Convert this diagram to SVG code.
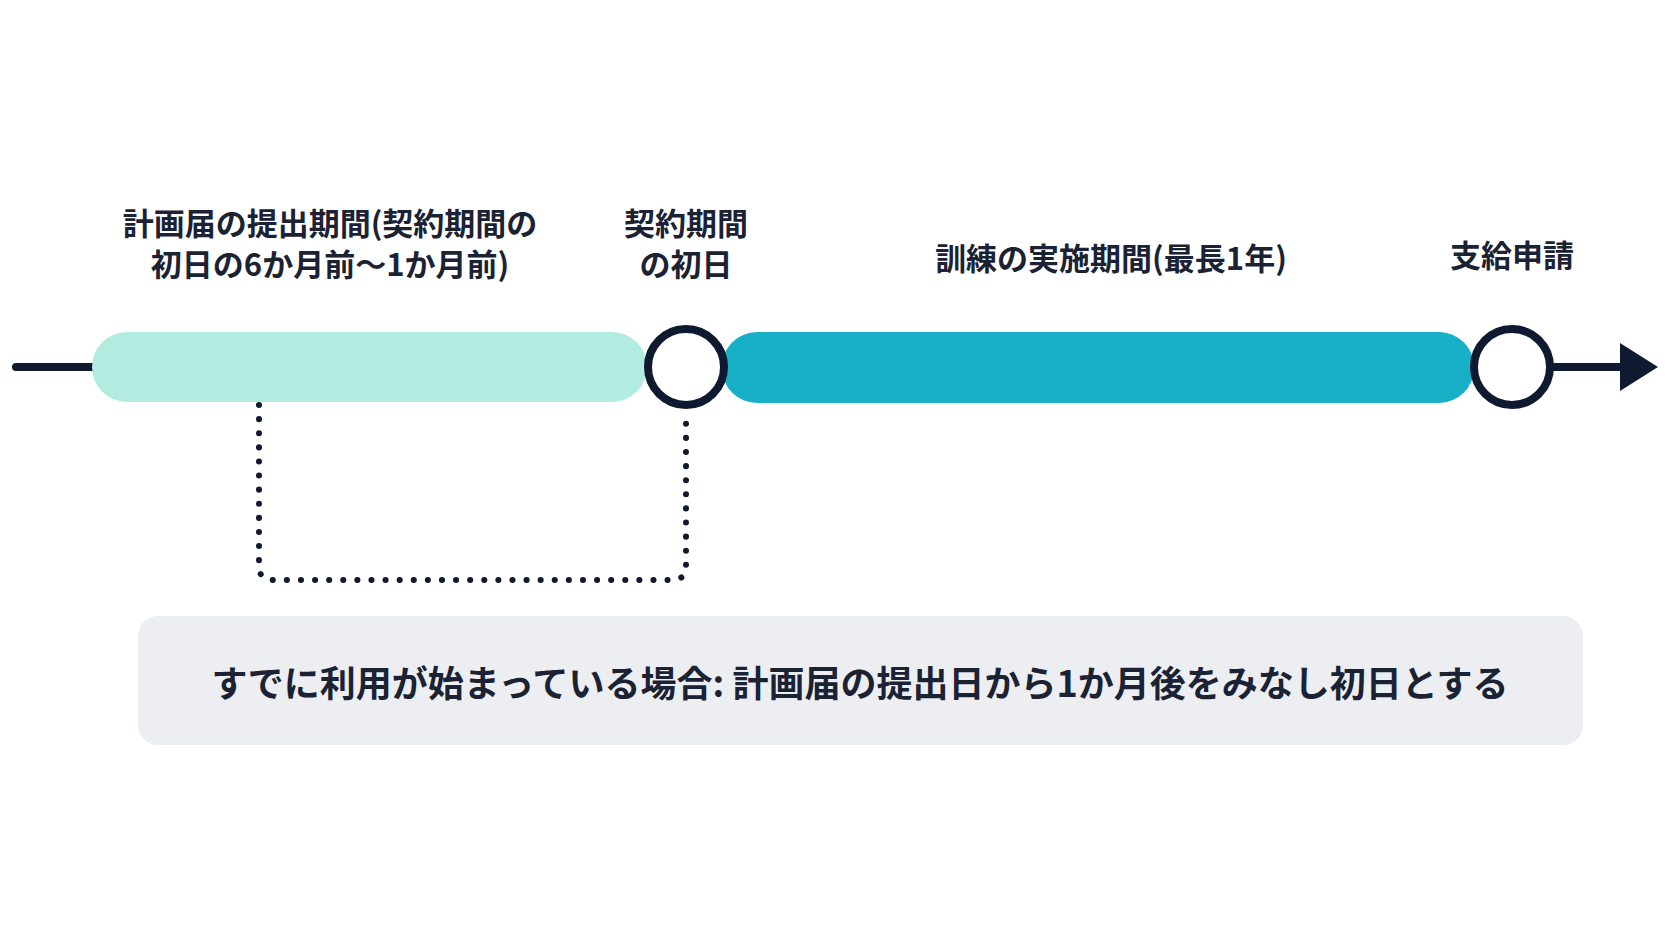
<svg xmlns="http://www.w3.org/2000/svg" width="1672" height="941" viewBox="0 0 1672 941">
<style>
.t{font-family:"Noto Sans CJK JP","Noto Sans",sans-serif;font-weight:bold;fill:#1a2233;text-anchor:middle}
.c{fill:#fff;stroke:#0f1a30;stroke-width:8}
</style>
<rect width="1672" height="941" fill="#fff"/>
<g id="connectors">
<line x1="16" y1="367" x2="95" y2="367" stroke="#0f1a30" stroke-width="8" stroke-linecap="round"/>
<line x1="1550" y1="367" x2="1625" y2="367" stroke="#0f1a30" stroke-width="8"/>
<polygon points="1620,343 1658,367 1620,391" fill="#0f1a30"/>
<path d="M259,405 V566 Q259,580 273,580 H672 Q686,580 686,566 V421" fill="none" stroke="#0f1a30" stroke-width="6" stroke-dasharray="0.1 14" stroke-linecap="round"/>
</g>
<g id="bar1"><rect x="92" y="332" width="555" height="70" rx="35" fill="#b2ebe0"/></g>
<g id="bar2"><rect x="722" y="332" width="752" height="71" rx="35" fill="#17b0c7"/></g>
<g id="circle1"><circle class="c" cx="686" cy="367" r="38"/></g>
<g id="circle2"><circle class="c" cx="1512" cy="367" r="38"/></g>
<g id="label1"><text class="t" font-size="31" x="330" y="235">計画届の提出期間(契約期間の</text><text class="t" font-size="31" x="330" y="276">初日の6か月前～1か月前)</text></g>
<g id="label2"><text class="t" font-size="31" x="686" y="235">契約期間</text><text class="t" font-size="31" x="686" y="276">の初日</text></g>
<g id="label3"><text class="t" font-size="31" x="1111" y="270">訓練の実施期間(最長1年)</text></g>
<g id="label4"><text class="t" font-size="31" x="1512" y="267">支給申請</text></g>
<g id="note"><rect x="138" y="616" width="1445" height="129" rx="20" fill="#eceef2"/><text class="t" font-size="36" x="860" y="697">すでに利用が始まっている場合: 計画届の提出日から1か月後をみなし初日とする</text></g>
</svg>
